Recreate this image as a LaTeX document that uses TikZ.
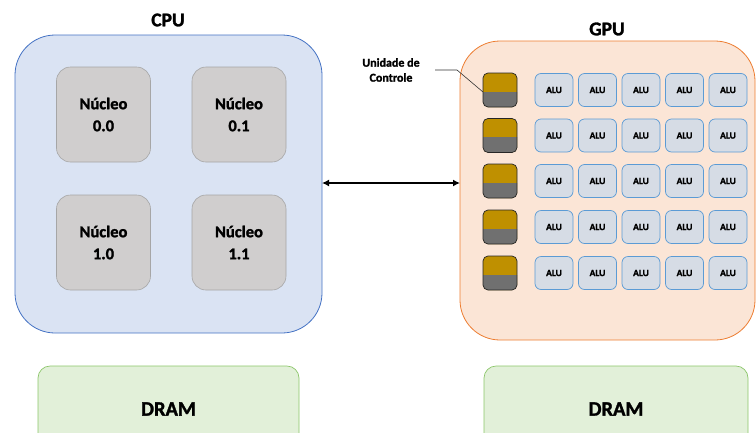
\documentclass[tikz,border=0pt]{standalone}
\usepackage{fontspec}
\setmainfont{Carlito}[BoldFont={Carlito Bold}, BoldFeatures={FakeBold=1.5}]
\usetikzlibrary{arrows.meta}
\definecolor{cpufill}{HTML}{DAE3F3}
\definecolor{cpuline}{HTML}{4472C4}
\definecolor{corefill}{HTML}{D0CECE}
\definecolor{coreline}{HTML}{A6A6A6}
\definecolor{gpufill}{HTML}{FBE5D6}
\definecolor{gpuline}{HTML}{ED7D31}
\definecolor{alufill}{HTML}{D6DCE5}
\definecolor{aluline}{HTML}{5B9BD5}
\definecolor{ctrltop}{HTML}{BF9000}
\definecolor{ctrlbot}{HTML}{707070}
\definecolor{dramfill}{HTML}{E2F0D9}
\definecolor{dramline}{HTML}{8CC66A}
\tikzset{
  chip/.style={rounded corners=40pt, line width=0.8pt},
  corebox/.style={draw=coreline, fill=corefill, rounded corners=14pt, line width=0.6pt,
    minimum width=94pt, minimum height=95pt, align=center, font=\bfseries\fontsize{16.5}{22}\selectfont},
  alubox/.style={draw=aluline, fill=alufill, rounded corners=6pt, line width=0.7pt,
    minimum width=38pt, minimum height=33pt, font=\bfseries\fontsize{9.5}{10}\selectfont},
  title/.style={font=\bfseries\fontsize{19.5}{22}\selectfont},
  dramtext/.style={font=\bfseries\fontsize{20.5}{24}\selectfont},
  drambox/.style={draw=dramline, fill=dramfill, rounded corners=12pt, line width=0.7pt},
}
\begin{document}
\begin{tikzpicture}[x=1pt, y=-1pt]
\useasboundingbox (0,0) rectangle (756,432);
% CPU package with its four cores
\draw[chip, draw=cpuline, fill=cpufill] (15,35) rectangle (322,333);
\node[title] (cputitle) at (168,20) {CPU};
\node[corebox] (c00) at (103.5,114.5) {Núcleo\\0.0};
\node[corebox] (c01) at (239,114.5) {Núcleo\\0.1};
\node[corebox] (c10) at (103.5,242.5) {Núcleo\\1.0};
\node[corebox] (c11) at (239,242.5) {Núcleo\\1.1};
% GPU package
\draw[chip, draw=gpuline, fill=gpufill] (460,41) rectangle (755,340);
\node[title] (gputitle) at (607,29) {GPU};
\coordinate (cpuedge) at (322,183);
\coordinate (gpuedge) at (460,183);
\draw[{Latex[length=7pt,width=7pt]}-{Latex[length=7pt,width=7pt]}, line width=1.4pt] (cpuedge) -- (gpuedge);
% control units and ALUs, one row per control unit
\foreach \r/\yy in {1/90,2/135.5,3/181,4/227,5/273}{
  \fill[ctrltop, rounded corners=5pt] (483,\yy-17) rectangle (517,\yy+17);
  \begin{scope}
    \clip (483,\yy+2) rectangle (517,\yy+18);
    \fill[ctrlbot, rounded corners=5pt] (483,\yy-17) rectangle (517,\yy+17);
  \end{scope}
  \draw[black!85, line width=0.7pt, rounded corners=5pt] (483,\yy-17) rectangle (517,\yy+17);
  \coordinate (ctrl\r) at (483,\yy+2);
  \foreach \c/\xx in {1/554,2/597.5,3/641,4/684.5,5/728}{
    \node[alubox] (alu\r\c) at (\xx,\yy) {ALU};
  }
}
% label for the control units
\node[align=center, font=\bfseries\fontsize{12}{15}\selectfont] (ctrllabel) at (391,70) {Unidade de\\Controle};
\coordinate (bend) at (457,70);
\draw[black!80, line width=0.6pt] (435,70) -- (bend) -- (ctrl1);
% memories
\draw[drambox] (38,366) rectangle (299,445);
\node[dramtext] (dram1) at (168.5,409) {DRAM};
\draw[drambox] (484,366) rectangle (748,445);
\node[dramtext] (dram2) at (616,409) {DRAM};
\end{tikzpicture}
\end{document}
